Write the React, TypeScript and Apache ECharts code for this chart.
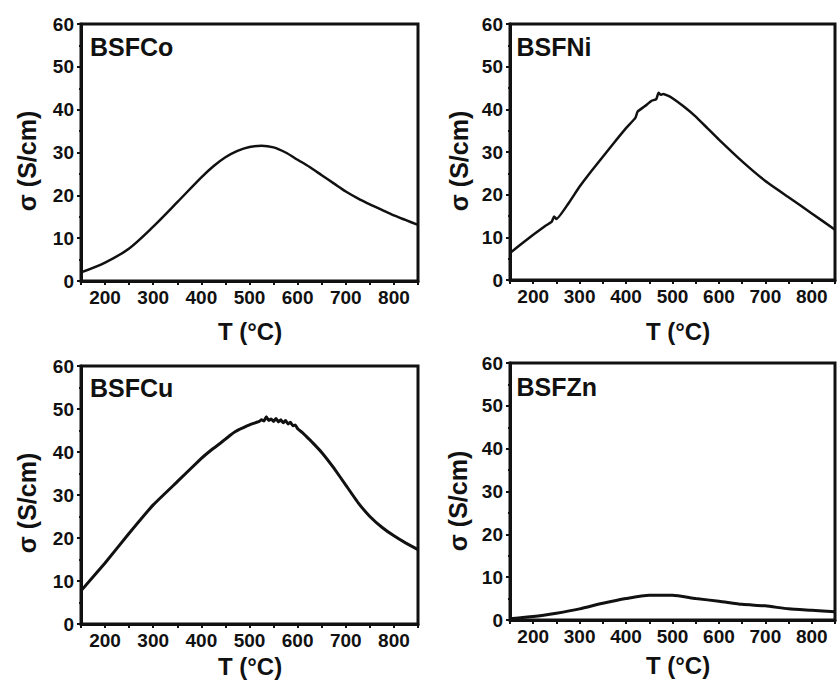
import React, { useEffect, useRef } from "react";
import * as echarts from "echarts";

// ---- Data ----
const panelNames = ["BSFCo", "BSFNi", "BSFCu", "BSFZn"];

const coT = [150, 200, 250, 300, 350, 400, 425, 450, 475, 500, 525, 550, 575, 600, 625, 650, 675, 700, 725, 750, 775, 800, 825, 850];
const coS = [2.0, 4.3, 7.6, 12.7, 18.4, 24.2, 26.8, 28.9, 30.4, 31.3, 31.6, 31.2, 30.0, 28.3, 26.6, 24.7, 22.8, 20.9, 19.3, 17.9, 16.6, 15.3, 14.2, 13.1];

const niT = [150, 175, 200, 225, 240, 245, 250, 275, 300, 325, 350, 375, 400, 420, 425, 440, 455, 465, 470, 475, 480, 490, 500, 525, 550, 575, 600, 650, 700, 750, 800, 850];
const niS = [6.3, 8.5, 10.6, 12.6, 13.7, 14.9, 14.3, 17.8, 21.9, 25.5, 28.9, 32.3, 35.6, 38.0, 39.5, 40.7, 42.0, 42.4, 43.9, 43.4, 43.6, 43.2, 42.6, 40.6, 38.3, 35.6, 32.9, 27.8, 23.2, 19.4, 15.6, 11.8];

const cuT = [150, 200, 250, 300, 350, 400, 420, 440, 450, 460, 470, 480, 490, 500, 510, 520, 525, 530, 535, 540, 545, 550, 555, 560, 565, 570, 575, 580, 585, 590, 595, 600, 610, 620, 630, 650, 675, 700, 725, 750, 775, 800, 825, 850];
const cuS = [7.7, 14.2, 21.1, 27.7, 33.1, 38.5, 40.4, 42.1, 43.0, 43.9, 44.7, 45.3, 45.8, 46.3, 46.7, 47.1, 47.5, 47.2, 48.2, 47.3, 47.7, 47.1, 47.8, 47.0, 47.5, 46.8, 47.3, 46.5, 46.9, 46.1, 46.3, 45.4, 44.5, 43.4, 42.3, 39.9, 36.3, 32.3, 28.3, 25.0, 22.5, 20.5, 18.8, 17.3];

const znT = [150, 200, 250, 300, 350, 400, 450, 500, 550, 600, 650, 700, 750, 800, 850];
const znS = [0.3, 0.8, 1.6, 2.6, 3.9, 5.0, 5.75, 5.75, 5.0, 4.4, 3.65, 3.3, 2.6, 2.25, 1.9];

const xTickLabels = [200, 300, 400, 500, 600, 700, 800];
const yTickLabels = [0, 10, 20, 30, 40, 50, 60];

const xName = "T (°C)";
const yName = "σ (S/cm)";

const INK = "#111";
const FONT = "'Liberation Sans', Arial, sans-serif";

const grids = [
  { left: 81, top: 24, width: 337, height: 257 },
  { left: 510, top: 24, width: 335, height: 256 },
  { left: 81, top: 366, width: 337, height: 258 },
  { left: 510, top: 363, width: 335, height: 257 },
];

const panelLabelPos = [
  [90, 46.5],
  [516.5, 46.5],
  [90, 388],
  [516.5, 387],
];
const yNamePos = [
  [27, 161],
  [459, 161],
  [27, 503],
  [458, 501],
];
const xNamePos = [
  [250, 331],
  [678, 331],
  [250, 666],
  [678, 665],
];

const seriesData = [
  { t: coT, s: coS, smooth: 0.3, width: 2.5 },
  { t: niT, s: niS, smooth: 0.15, width: 2.5 },
  { t: cuT, s: cuS, smooth: 0.1, width: 3 },
  { t: znT, s: znS, smooth: 0.2, width: 3 },
];

export default function App() {
  const ref = useRef<HTMLDivElement>(null);

  useEffect(() => {
    if (!ref.current) return;
    const chart = echarts.init(ref.current, undefined, { renderer: "svg" });

    const labelStyle = {
      fontSize: 19,
      fontWeight: "bold" as const,
      color: INK,
      fontFamily: FONT,
    };

    const option: any = {
      animation: false,
      backgroundColor: "#fff",
      grid: grids.map((g) => ({
        ...g,
        show: true,
        borderColor: INK,
        borderWidth: 3,
        backgroundColor: "transparent",
        containLabel: false,
      })),
      xAxis: grids.map((_, i) => ({
        type: "value",
        gridIndex: i,
        min: 150,
        max: 850,
        interval: 50,
        axisLine: { show: true, onZero: false, lineStyle: { color: INK, width: 3 } },
        axisTick: { show: true, inside: false, length: 4, lineStyle: { color: INK, width: 2 } },
        axisLabel: {
          ...labelStyle,
          margin: 7,
          formatter: (v: number) => (xTickLabels.includes(v) ? String(v) : ""),
        },
        splitLine: { show: false },
      })),
      yAxis: grids.map((_, i) => ({
        type: "value",
        gridIndex: i,
        min: 0,
        max: 60,
        interval: 10,
        axisLine: { show: true, onZero: false, lineStyle: { color: INK, width: 3 } },
        axisTick: { show: true, inside: false, length: 4, lineStyle: { color: INK, width: 2 } },
        minorTick: { show: true, splitNumber: 2, length: 2, lineStyle: { color: INK, width: 2 } },
        axisLabel: {
          ...labelStyle,
          margin: 7,
          formatter: (v: number) => (yTickLabels.includes(v) ? String(v) : ""),
        },
        splitLine: { show: false },
        minorSplitLine: { show: false },
      })),
      series: seriesData.map((d, i) => ({
        type: "line",
        name: panelNames[i],
        xAxisIndex: i,
        yAxisIndex: i,
        data: d.t.map((t, k) => [t, d.s[k]]),
        showSymbol: false,
        symbol: "none",
        smooth: d.smooth,
        lineStyle: { color: INK, width: d.width },
        clip: true,
      })),
      graphic: [
        ...panelNames.map((name, i) => ({
          type: "text",
          x: panelLabelPos[i][0],
          y: panelLabelPos[i][1],
          style: {
            text: name,
            fontSize: 25,
            fontWeight: "bold",
            fontFamily: FONT,
            fill: INK,
            textAlign: "left",
            textVerticalAlign: "middle",
          },
        })),
        ...yNamePos.map((p) => ({
          type: "text",
          x: p[0],
          y: p[1],
          rotation: Math.PI / 2,
          style: {
            text: yName,
            fontSize: 25,
            fontWeight: "bold",
            fontFamily: FONT,
            fill: INK,
            textAlign: "center",
            textVerticalAlign: "middle",
          },
        })),
        ...xNamePos.map((p) => ({
          type: "text",
          x: p[0],
          y: p[1],
          style: {
            text: xName,
            fontSize: 24,
            fontWeight: "bold",
            fontFamily: FONT,
            fill: INK,
            textAlign: "center",
            textVerticalAlign: "middle",
          },
        })),
      ],
    };

    chart.setOption(option);
    return () => {
      chart.dispose();
    };
  }, []);

  return (
    <div
      ref={ref}
      style={{ position: "absolute", left: 0, top: 0, width: 838, height: 680, background: "#fff" }}
    />
  );
}
